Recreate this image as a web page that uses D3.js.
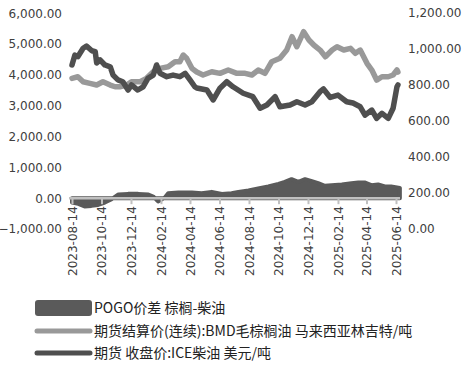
<!DOCTYPE html>
<html>
<head>
<meta charset="utf-8">
<script src="https://cdn.jsdelivr.net/npm/d3@7"></script>
<style>
  body { margin: 0; background: #fff; }
  text { font-family: "DejaVu Sans", sans-serif; }
  .legend text { font-family: "Noto Sans CJK SC", sans-serif; }
</style>
</head>
<body>
<div id="chart"></div>
<script>
// POGO spread, left axis
var pogoDates = ["2023-08-14","2023-08-27","2023-09-09","2023-09-23","2023-10-07","2023-10-21","2023-11-04","2023-11-18",
  "2023-12-08","2023-12-29","2024-01-19","2024-01-29","2024-02-08","2024-02-22","2024-02-29","2024-03-21","2024-04-18",
  "2024-05-08","2024-05-29","2024-06-19","2024-07-09","2024-07-23","2024-08-13","2024-09-02","2024-09-23","2024-10-14",
  "2024-10-27","2024-11-10","2024-11-24","2024-12-08","2024-12-22","2025-01-04","2025-01-18","2025-02-01","2025-02-22",
  "2025-03-14","2025-03-28","2025-04-10","2025-04-24","2025-05-08","2025-05-22","2025-06-04","2025-06-22"];
var pogoValues = [-140,-185,-270,-250,-218,-140,-33,120,
  140,140,120,55,-107,20,163,185,185,
  163,205,140,163,205,250,315,380,465,
  530,618,530,618,553,488,400,423,445,
  488,510,510,423,445,380,380,335];

// BMD palm oil settlement, MYR/t, left axis
var palmDates = ["2023-08-14","2023-08-26","2023-09-06","2023-09-20","2023-10-04","2023-10-17","2023-11-01","2023-11-11",
  "2023-11-21","2023-12-05","2023-12-15","2024-01-02","2024-01-15","2024-01-29","2024-02-12","2024-02-29","2024-03-14",
  "2024-03-24","2024-03-31","2024-04-07","2024-04-18","2024-04-28","2024-05-11","2024-05-29","2024-06-15","2024-07-02",
  "2024-07-20","2024-08-06","2024-08-20","2024-09-02","2024-09-16","2024-09-30","2024-10-17","2024-10-31","2024-11-11",
  "2024-11-21","2024-12-05","2024-12-16","2024-12-26","2025-01-08","2025-01-19","2025-02-02","2025-02-12","2025-02-26",
  "2025-03-12","2025-03-22","2025-04-01","2025-04-15","2025-04-25","2025-05-05","2025-05-16","2025-05-29","2025-06-08",
  "2025-06-16","2025-06-18"];
var palmValues = [3890,3941,3779,3727,3672,3779,3672,3617,
  3617,3672,3779,3779,3890,4104,4214,4266,4428,
  4428,4646,4539,4214,4094,3997,4104,4052,4159,
  4052,4052,3997,4159,4052,4428,4539,4808,5240,
  4916,5403,5133,4971,4808,4591,4808,4916,4808,
  4864,4701,4808,4376,4159,3834,3941,3941,3997,
  4159,4094];

// ICE gasoil close, USD/t, right axis
var gasDates = ["2023-08-14","2023-08-20","2023-08-26","2023-09-06","2023-09-13","2023-09-24","2023-10-01","2023-10-04",
  "2023-10-11","2023-10-21","2023-11-01","2023-11-07","2023-11-17","2023-11-27","2023-12-08","2023-12-15","2023-12-28",
  "2024-01-08","2024-01-18","2024-01-29","2024-02-05","2024-02-12","2024-02-26","2024-03-10","2024-03-24","2024-04-04",
  "2024-04-14","2024-04-24","2024-04-28","2024-05-19","2024-06-01","2024-06-15","2024-06-29","2024-07-12","2024-08-02",
  "2024-08-22","2024-09-06","2024-09-20","2024-10-07","2024-10-17","2024-11-07","2024-11-21","2024-12-08","2024-12-22",
  "2025-01-08","2025-01-15","2025-01-29","2025-02-14","2025-03-04","2025-03-17","2025-04-01","2025-04-11","2025-04-25",
  "2025-05-05","2025-05-16","2025-05-29","2025-06-08","2025-06-16","2025-06-18"];
var gasValues = [910,965,956,1003,1015,989,984,921,
  938,910,900,854,827,817,771,799,771,
  789,836,854,910,864,845,854,845,864,
  827,789,782,771,716,781,817,789,753,
  734,670,688,734,678,688,706,688,706,
  762,777,730,743,706,699,678,632,660,
  614,642,614,670,789,799];

var xTicks = ["2023-08-14","2023-10-14","2023-12-14","2024-02-14","2024-04-14","2024-06-14",
  "2024-08-14","2024-10-14","2024-12-14","2025-02-14","2025-04-14","2025-06-14"];
var leftTicks = [-1000, 0, 1000, 2000, 3000, 4000, 5000, 6000];
var rightTicks = [0, 200, 400, 600, 800, 1000, 1200];
var legendNames = ["POGO价差 棕榈-柴油", "期货结算价(连续):BMD毛棕榈油 马来西亚林吉特/吨", "期货 收盘价:ICE柴油 美元/吨"];

var width = 468, height = 373;
var parseDate = d3.timeParse("%Y-%m-%d");

var svg = d3.select("#chart").append("svg")
    .attr("width", width)
    .attr("height", height);

// set the scales
var x = d3.scaleTime()
    .domain([parseDate("2023-08-14"), parseDate("2025-06-14")])
    .range([72, 396]);
var yLeft = d3.scaleLinear().domain([-1000, 6000]).range([229, 13.3]);
var yRight = d3.scaleLinear().domain([0, 1200]).range([229, 12.7]);

var pogo = pogoDates.map(function(d, i) { return {date: parseDate(d), value: pogoValues[i]}; });
var palm = palmDates.map(function(d, i) { return {date: parseDate(d), value: palmValues[i]}; });
var gas = gasDates.map(function(d, i) { return {date: parseDate(d), value: gasValues[i]}; });

// spread area
var area = d3.area()
    .x(function(d) { return x(d.date); })
    .y0(yLeft(0))
    .y1(function(d) { return yLeft(d.value); });

svg.append("path")
    .datum(pogo)
    .attr("d", area)
    .attr("fill", "#5a5a5a")
    .attr("stroke", "#5a5a5a")
    .attr("stroke-width", 4)
    .attr("stroke-linejoin", "round");

// price lines
var palmLine = d3.line()
    .x(function(d) { return x(d.date); })
    .y(function(d) { return yLeft(d.value); });
var gasLine = d3.line()
    .x(function(d) { return x(d.date); })
    .y(function(d) { return yRight(d.value); });

svg.append("path")
    .datum(palm)
    .attr("d", palmLine)
    .attr("fill", "none")
    .attr("stroke", "#999999")
    .attr("stroke-width", 5.5)
    .attr("stroke-linejoin", "round")
    .attr("stroke-linecap", "round");

svg.append("path")
    .datum(gas)
    .attr("d", gasLine)
    .attr("fill", "none")
    .attr("stroke", "#4f4f4f")
    .attr("stroke-width", 5.5)
    .attr("stroke-linejoin", "round")
    .attr("stroke-linecap", "round");

// x axis at zero of the left scale
var xAxis = svg.append("g")
    .attr("transform", "translate(0," + yLeft(0) + ")")
    .call(d3.axisBottom(x)
      .tickValues(xTicks.map(parseDate))
      .tickSize(6)
      .tickPadding(4)
      .tickFormat(d3.timeFormat("%Y-%m-%d")));
xAxis.select(".domain")
    .attr("d", "M69,0H400")
    .attr("stroke", "#c0c0c0")
    .attr("stroke-width", 2.5);
xAxis.selectAll(".tick line")
    .attr("stroke", "#c0c0c0")
    .attr("stroke-width", 2);
xAxis.selectAll(".tick text")
    .attr("fill", "#404040")
    .style("font-size", "12px")
    .style("font-family", "DejaVu Sans")
    .attr("transform", "rotate(-90)")
    .attr("text-anchor", "end")
    .attr("x", -8)
    .attr("y", 0)
    .attr("dy", "0.35em");

// left y axis labels
var leftAxis = svg.append("g")
    .attr("transform", "translate(62,0)")
    .call(d3.axisLeft(yLeft).tickValues(leftTicks).tickSize(0).tickPadding(0).tickFormat(d3.format(",.2f")));
leftAxis.select(".domain").remove();
leftAxis.selectAll("text")
    .attr("fill", "#404040")
    .style("font-size", "12px")
    .style("font-family", "DejaVu Sans");

// right y axis labels
var rightAxis = svg.append("g")
    .attr("transform", "translate(408,0)")
    .call(d3.axisRight(yRight).tickValues(rightTicks).tickSize(0).tickPadding(0).tickFormat(d3.format(",.2f")));
rightAxis.select(".domain").remove();
rightAxis.selectAll("text")
    .attr("fill", "#404040")
    .style("font-size", "12px")
    .style("font-family", "DejaVu Sans");

// legend
var legend = svg.append("g").attr("class", "legend");
var rowY = [308, 331, 353];

legend.append("rect")
    .attr("x", 35).attr("y", rowY[0] - 8)
    .attr("width", 57).attr("height", 16)
    .attr("rx", 3)
    .attr("fill", "#5a5a5a");
legend.append("line")
    .attr("x1", 37).attr("x2", 90)
    .attr("y1", rowY[1]).attr("y2", rowY[1])
    .attr("stroke", "#999999").attr("stroke-width", 5)
    .attr("stroke-linecap", "round");
legend.append("line")
    .attr("x1", 37).attr("x2", 90)
    .attr("y1", rowY[2]).attr("y2", rowY[2])
    .attr("stroke", "#4f4f4f").attr("stroke-width", 5)
    .attr("stroke-linecap", "round");

legend.selectAll(".ltext")
    .data(legendNames)
  .enter().append("text")
    .attr("class", "ltext")
    .attr("x", 94)
    .attr("y", function(d, i) { return rowY[i]; })
    .attr("dy", "0.36em")
    .attr("fill", "#222")
    .style("font-size", "14px")
    .text(function(d) { return d; });
</script>
</body>
</html>
